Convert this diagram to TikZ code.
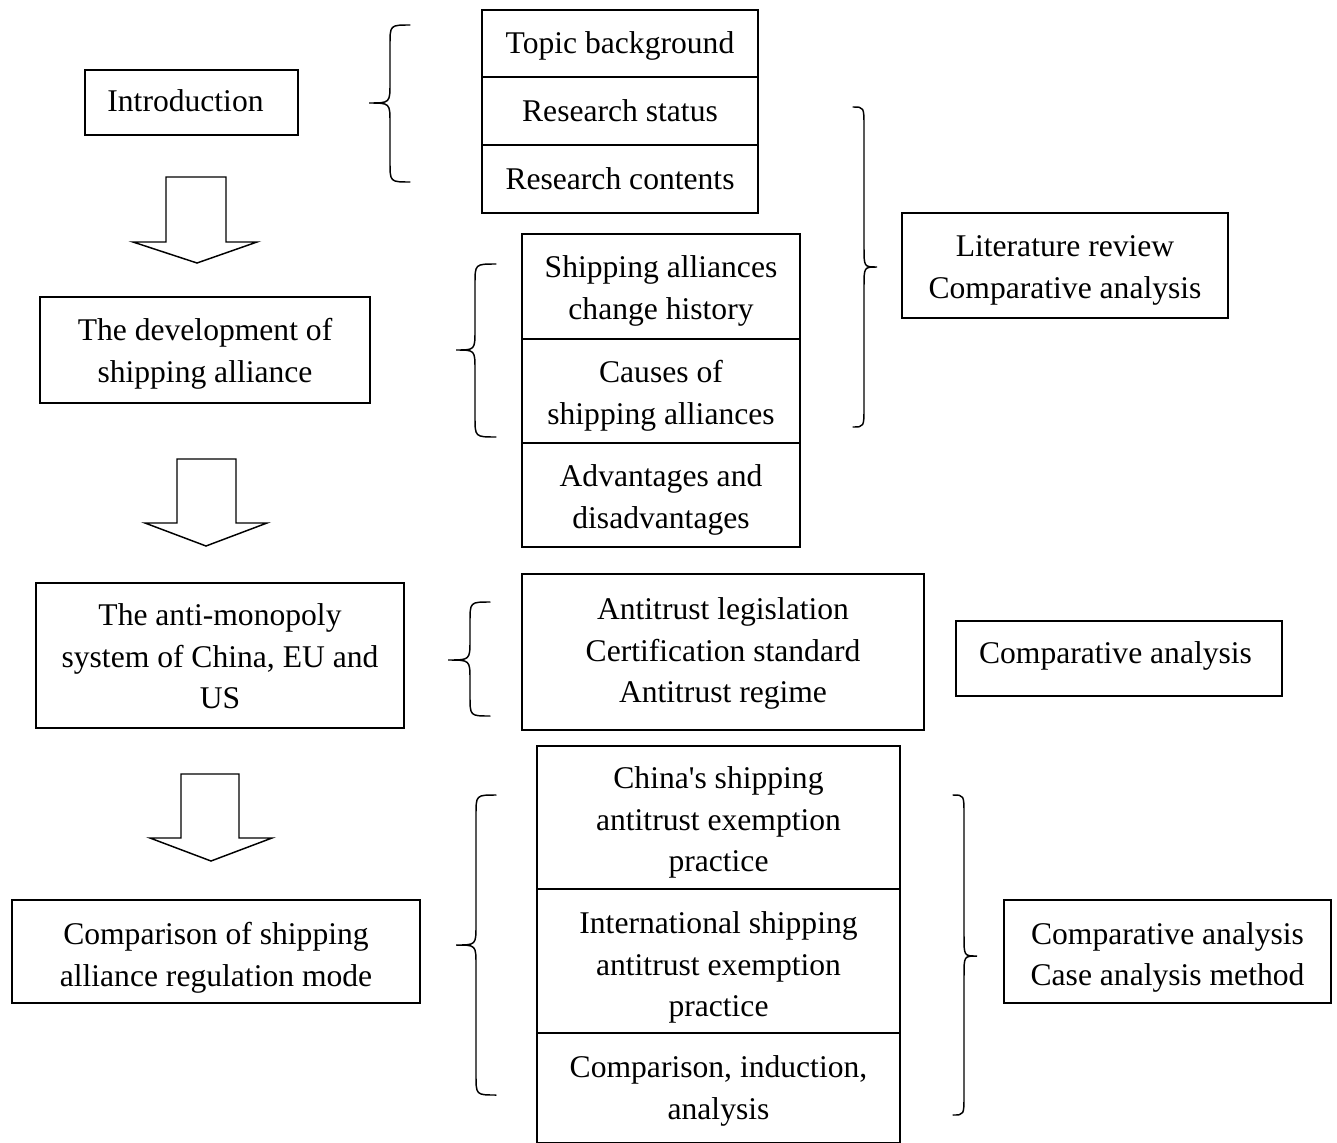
\documentclass[tikz,border=0pt]{standalone}
\usepackage{fontspec}
\setmainfont{Liberation Serif}[Ligatures=TeXOff]
\newcommand\braceL[6]{% xe xv xt yt ym yb
  \draw[bracestyle] (#1,#4) .. controls (#2,#4) .. (#2,#4+20) -- (#2,#5-20) .. controls (#2,#5) .. (#3,#5) .. controls (#2,#5) .. (#2,#5+20) -- (#2,#6-20) .. controls (#2,#6) .. (#1,#6);}
\newcommand\blockarrow[8]{% sl sr top hy hl hr tipx tipy
  \draw[arrowstyle] (#1,#3) -- (#2,#3) -- (#2,#4) -- (#6,#4) -- (#7,#8) -- (#5,#4) -- (#1,#4) -- cycle;}
% name, cx, cy, w, h, dx, dy (px, positive = right/down), text
\newcommand\bx[8]{%
  \node[box, sz={#4}{#5}] (#1) at (#2,#3) {};
  \node[tx] (#1-t) at ([xshift={(#6)*0.75pt}, yshift={-(#7)*0.75pt}]#1.center) {#8};}
\begin{document}
\begin{tikzpicture}[x=0.75pt,y=-0.75pt,
  sz/.style 2 args={minimum width=#1*0.75pt, minimum height=#2*0.75pt},
  box/.style={draw, line width=1.1pt, inner sep=0pt},
  tx/.style={inner sep=0pt, align=center, font=\fontsize{23.7}{31.2}\selectfont},
  bracestyle/.style={line width=1.1pt, line cap=round},
  arrowstyle/.style={line width=1.1pt, line join=miter, fill=white}]
\useasboundingbox (0,0) rectangle (1337,1142);
\fill[white] (0,0) rectangle (1337,1142);
% left column
\bx{intro}{191.5}{102.5}{213}{65}{-6}{-2}{Introduction}
\bx{dev}{205}{350}{330}{106}{0}{3.5}{The development of\\shipping alliance}
\bx{anti}{220}{655.5}{368}{145}{0}{1}{The anti-monopoly\\system of China, EU and\\US}
\bx{reg}{216}{951.5}{408}{103}{0}{6}{Comparison of shipping\\alliance regulation mode}
% middle column
\bx{topic}{620}{43.5}{276}{67}{0}{2}{Topic background}
\bx{status}{620}{111}{276}{68}{0}{0}{Research status}
\bx{contents}{620}{179}{276}{68}{0}{0}{Research contents}
\bx{hist}{661}{286.5}{278}{105}{0}{4.5}{Shipping alliances\\change history}
\bx{causes}{661}{391}{278}{104}{0}{5}{Causes of\\shipping alliances}
\bx{adv}{661}{495}{278}{104}{0}{5}{Advantages and\\disadvantages}
\bx{legis}{723}{652}{402}{156}{0}{1.5}{Antitrust legislation\\Certification standard\\Antitrust regime}
\bx{china}{718.5}{817.5}{363}{143}{0}{5}{China's shipping\\antitrust exemption\\practice}
\bx{intl}{718.5}{961}{363}{144}{0}{6.5}{International shipping\\antitrust exemption\\practice}
\bx{cind}{718.5}{1088}{363}{110}{0}{3}{Comparison, induction,\\analysis}
% right column
\bx{lit}{1065}{265.5}{326}{105}{0}{5}{Literature review\\Comparative analysis}
\bx{comp}{1119}{658.5}{326}{75}{-3.5}{-3}{Comparative analysis}
\bx{case}{1167.5}{951.5}{327}{103}{0}{6}{Comparative analysis\\Case analysis method}
% braces
\braceL{410}{390}{369}{25}{103}{182}
\braceL{496}{475}{456}{264}{350}{437}
\braceL{490}{470}{448}{602}{660}{716}
\braceL{853}{864}{877}{107}{267}{427}
\braceL{496}{476}{456}{795}{945}{1095}
\braceL{953}{964}{977}{795}{956}{1115}
% block arrows
\blockarrow{166}{226}{177}{242}{133}{257}{197}{263}
\blockarrow{177}{236}{459}{523}{145}{267}{206}{546}
\blockarrow{181}{239}{774}{838}{150}{272}{211}{861}
\end{tikzpicture}
\end{document}
